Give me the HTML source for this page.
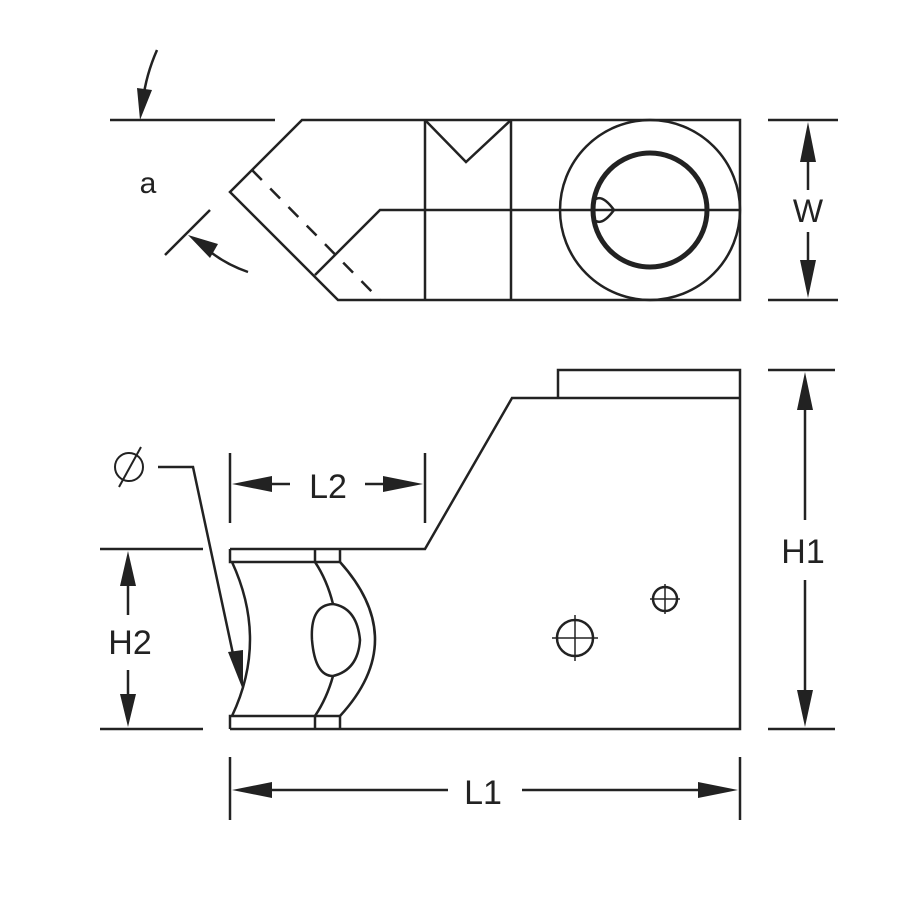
<!DOCTYPE html>
<html><head><style>body{margin:0;background:#fff}svg{display:block}text{font-family:"Liberation Sans",sans-serif;fill:#222}</style></head>
<body>
<svg width="900" height="900" viewBox="0 0 900 900" xmlns="http://www.w3.org/2000/svg">
<g fill="none" stroke="#222" stroke-width="2.5" stroke-linejoin="miter">
<path d="M302,120 L740,120 L740,300 L338,300 L230,192 Z"/>
<path d="M425,120 V300 M511,120 V300"/>
<path d="M425,120 L466,162 L511,120"/>
<path d="M315,275 L380,210 L740,210"/>
<path d="M252,170 L380,300" stroke-dasharray="14,12"/>
<circle cx="650" cy="210" r="90"/>
<circle cx="650" cy="210" r="57" stroke-width="5"/>
<path d="M596,199 Q603,195 614,210 Q603,225 596,221"/>
<path d="M110,120 H275"/>
<path d="M157,50 Q146,75 143,100"/>
<path d="M165,255 L210,210"/>
<path d="M248,272 Q225,264 208,250"/>
<path d="M768,120 H838 M768,300 H838 M808,160 V190 M808,232 V262"/>
<path d="M230,729 H740 V370 H558 V398 M740,398 H512 L425,549 H230"/>
<path d="M230,549 V562 H340 V549 M230,729 V716 H340 V729 M315,549 V562 M315,716 V729"/>
<path d="M232,562 Q268,640 232,716"/>
<path d="M340,562 Q410,640 340,716"/>
<path d="M315,562 Q327,580 333,604 M315,716 Q327,698 333,676"/>
<path d="M333,604 Q310,605 312,640 Q315,676 333,676 Q358,670 360,640 Q357,608 333,604 Z"/>
<circle cx="575" cy="638" r="18"/>
<path d="M552,638 H598 M575,615 V661" stroke-width="1.5"/>
<circle cx="665" cy="599" r="12"/>
<path d="M650,599 H680 M665,584 V614" stroke-width="1.5"/>
<path d="M768,370 H835 M768,729 H835 M805,410 V520 M805,580 V690"/>
<path d="M100,549 H203 M100,729 H203 M128,585 V615 M128,670 V695"/>
<path d="M230,453 V523 M425,453 V523 M270,484 H290 M365,484 H385"/>
<path d="M230,757 V820 M740,757 V820 M270,790 H448 M522,790 H700"/>
<path d="M158,467 H193 L236,668"/>
</g>
<g fill="#222" stroke="none">
<path d="M140,120 L137,88 L152,90 Z"/>
<path d="M188,235 L218,244 L210,258 Z"/>
<path d="M808,122 L800,162 L816,162 Z M808,298 L800,260 L816,260 Z"/>
<path d="M805,372 L797,410 L813,410 Z M805,727 L797,690 L813,690 Z"/>
<path d="M128,551 L120,586 L136,586 Z M128,727 L120,694 L136,694 Z"/>
<path d="M232,484 L272,476 L272,492 Z M423,484 L383,476 L383,492 Z"/>
<path d="M232,790 L272,782 L272,798 Z M738,790 L698,782 L698,798 Z"/>
<path d="M243,690 L228,652 L243,650 Z"/>
</g>
<text x="148" y="193" font-size="30" text-anchor="middle">a</text>
<text x="808" y="222" font-size="32" text-anchor="middle">W</text>
<text x="803" y="563" font-size="34" text-anchor="middle">H1</text>
<text x="130" y="654" font-size="34" text-anchor="middle">H2</text>
<text x="328" y="498" font-size="34" text-anchor="middle">L2</text>
<text x="483" y="804" font-size="34" text-anchor="middle">L1</text>
<g fill="none" stroke="#222" stroke-width="2"><circle cx="129" cy="467" r="14"/><path d="M119,487 L141,447"/></g>
</svg>
</body></html>
